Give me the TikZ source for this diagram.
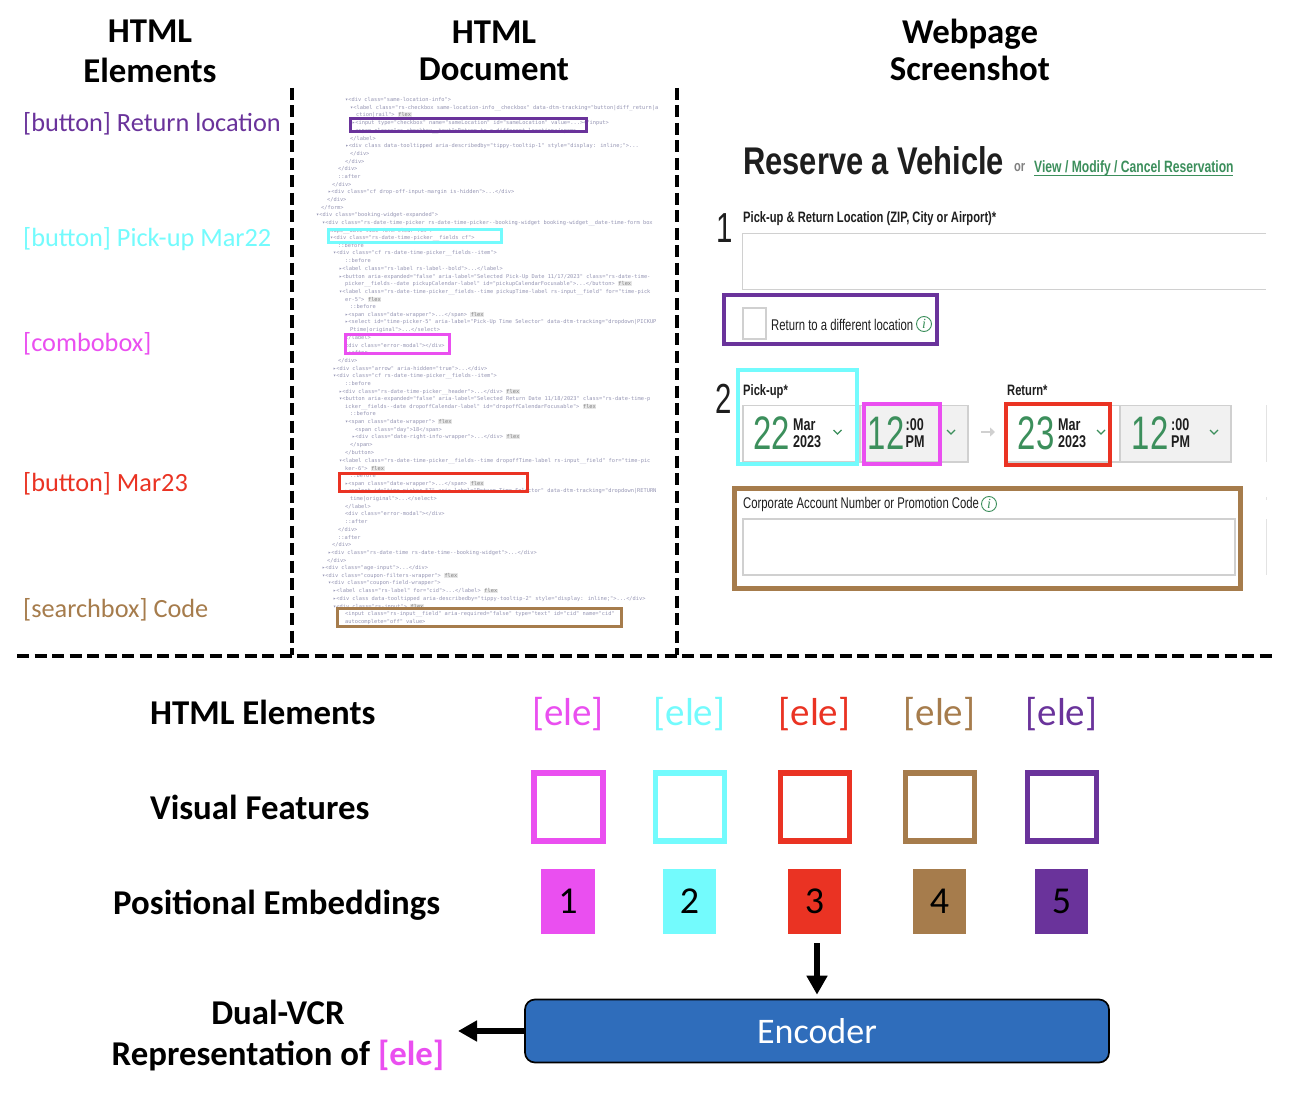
\documentclass[tikz,border=0pt]{standalone}
\usepackage{fontspec}
\setmainfont{Carlito}
\newfontfamily\shotr[FakeStretch=0.73]{Liberation Sans}
\newfontfamily\shotb[FakeStretch=0.8]{Liberation Sans Bold}
\newfontfamily\shotn[FakeStretch=0.74]{Liberation Sans Bold}
\newfontfamily\shotd[FakeStretch=0.7]{Liberation Sans}
\newfontfamily\shoti{Liberation Serif Italic}
\newfontfamily\codef{DejaVu Sans Mono}
\usetikzlibrary{arrows.meta}
\definecolor{cpurple}{RGB}{106,51,155}
\definecolor{ccyan}{RGB}{115,251,253}
\definecolor{cmag}{RGB}{234,79,240}
\definecolor{cred}{RGB}{234,51,35}
\definecolor{cbrown}{RGB}{166,124,76}
\definecolor{cblue}{RGB}{47,109,187}
\definecolor{cgreen}{RGB}{60,143,92}
\definecolor{ctitle}{RGB}{30,30,30}
\definecolor{ccode}{RGB}{150,150,180}
\definecolor{cframe}{RGB}{208,208,208}
\definecolor{cgrayfill}{RGB}{241,241,241}
\newcommand\fs[1]{\fontsize{#1}{#1}\selectfont}
\newcommand\cl[3]{\node[codeline] at (#1,#2) {\detokenize{#3}};}
\newcommand\clf[3]{\node[codeline] at (#1,#2) {\detokenize{#3} {\fboxsep=0.4pt\colorbox{gray!18}{\textcolor{gray}{flex}}}};}
\newcommand\daybox[6]{%
  \node[bignum] at (#1,433) {#3};
  \node[smallnum] at (#2,425) {#4};
  \node[smallnum] at (#2,442) {#5};
  \draw[chev] (#6-4,430) -- (#6,434) -- (#6+4,430);
}
\tikzset{
  codeline/.style={anchor=west,inner sep=0pt,text=ccode,font=\codef\fs{5.33}},
  header/.style={anchor=base,font=\bfseries\fs{34.8},inner sep=0pt,text=black},
  sidelabel/.style={anchor=base west,inner sep=0pt,font=\fs{26.3}},
  rowlabel/.style={anchor=base west,inner sep=0pt,font=\bfseries\fs{34.8},text=black},
  divider/.style={line width=4pt,dash pattern=on 12pt off 5.5pt},
  hilite/.style={line width=#1,fill=none},
  hilite/.default=3pt,
  eletext/.style={anchor=base,inner sep=0pt,font=\fs{39}},
  square/.style={line width=5.5pt,minimum width=69pt,minimum height=68pt,inner sep=0pt,draw},
  numbox/.style={minimum width=53.5pt,minimum height=65pt,inner sep=0pt,text=black,font=\fs{38}},
  bignum/.style={anchor=west,inner sep=0pt,text=cgreen,font=\shotd\fs{47}},
  smallnum/.style={anchor=west,inner sep=0pt,text=ctitle,font=\shotn\fs{17}},
  chev/.style={cgreen,line width=1.2pt},
  shotlabel/.style={anchor=west,inner sep=0pt,text=ctitle},
  fieldbox/.style={draw=cframe,line width=1.2pt},
  infoc/.style={circle,draw=cgreen,line width=0.9pt,text=cgreen,inner sep=0pt,minimum size=15pt,font=\shoti\fs{14}},
  flow/.style={-{Triangle[length=19pt,width=20pt]},line width=6.2pt,black},
}
\begin{document}
\begin{tikzpicture}[x=1pt,y=-1pt]
\useasboundingbox (0,0) rectangle (1294,1094);
\fill[white] (0,0) rectangle (1294,1094);

% headers
\node[header] (h1a) at (150,43) {HTML};
\node[header] (h1b) at (150,83) {Elements};
\node[header] (h2a) at (494,44) {HTML};
\node[header] (h2b) at (494,81) {Document};
\node[header] (h3a) at (970,44) {Webpage};
\node[header] (h3b) at (970,81) {Screenshot};

% dividers
\draw[divider] (292,88) -- (292,655);
\draw[divider] (677,88) -- (677,655);
\draw[divider] (17,656) -- (1275,656);

% side labels
\node[sidelabel,text=cpurple] (s1) at (23,131.5) {[button] Return location};
\node[sidelabel,text=ccyan] (s2) at (23,246.5) {[button] Pick-up Mar22};
\node[sidelabel,text=cmag] (s3) at (23,352) {[combobox]};
\node[sidelabel,text=cred] (s4) at (23,491) {[button] Mar23};
\node[sidelabel,text=cbrown] (s5) at (23,617) {[searchbox] Code};

% HTML document
\cl{345}{100}{▾<div class="same-location-info">}
\cl{350}{107.7}{▾<label class="rs-checkbox same-location-info__checkbox" data-dtm-tracking="button|diff_return|a}
\clf{356}{115}{ction|rail">}
\cl{352}{123}{▸<input type="checkbox" name="sameLocation" id="sameLocation" value=...></input>}
\cl{355}{130.7}{<span class="rs-checkbox__text">Return to a different location</span>}
\cl{350}{138.3}{</label>}
\cl{345.5}{146}{▸<div class data-tooltipped aria-describedby="tippy-tooltip-1" style="display: inline;">...}
\cl{350}{153.7}{</div>}
\cl{345}{161.3}{</div>}
\cl{338}{169}{</div>}
\cl{338}{176.7}{::after}
\cl{332}{184.3}{</div>}
\cl{328}{192}{▸<div class="cf drop-off-input-margin is-hidden">...</div>}
\cl{327}{200}{</div>}
\cl{321}{207.7}{</form>}
\cl{316}{215.3}{▾<div class="booking-widget-expanded">}
\cl{322}{223}{▾<div class="rs-date-time-picker rs-date-time-picker--booking-widget booking-widget__date-time-form box}
\cl{327}{230.7}{shape__date-time-form clear-fix">}
\cl{330}{237.7}{▾<div class="rs-date-time-picker__fields cf">}
\cl{338}{245.7}{::before}
\cl{333}{253.3}{▾<div class="cf rs-date-time-picker__fields--item">}
\cl{345}{261}{::before}
\cl{339}{269}{▸<label class="rs-label rs-label--bold">...</label>}
\cl{339}{276.7}{▸<button aria-expanded="false" aria-label="Selected Pick-Up Date 11/17/2023" class="rs-date-time-}
\clf{345}{284.3}{picker__fields--date pickupCalendar-label" id="pickupCalendarFocusable">...</button>}
\cl{339}{292}{▾<label class="rs-date-time-picker__fields--time pickupTime-label rs-input__field" for="time-pick}
\clf{345}{299.3}{er-5">}
\cl{350}{307}{::before}
\clf{345}{315}{▸<span class="date-wrapper">...</span>}
\cl{345}{322.3}{▸<select id="time-picker-5" aria-label="Pick-Up Time Selector" data-dtm-tracking="dropdown|PICKUP}
\cl{350}{330}{Ptime|original">...</select>}
\cl{345}{337.7}{</label>}
\cl{345}{345.3}{<div class="error-modal"></div>}
\cl{345}{353}{::after}
\cl{338}{360.7}{</div>}
\cl{333}{368.3}{▸<div class="arrow" aria-hidden="true">...</div>}
\cl{333}{376}{▾<div class="cf rs-date-time-picker__fields--item">}
\cl{345}{384}{::before}
\clf{339}{391.7}{▸<div class="rs-date-time-picker__header">...</div>}
\cl{339}{399.3}{▾<button aria-expanded="false" aria-label="Selected Return Date 11/18/2023" class="rs-date-time-p}
\clf{345}{406.7}{icker__fields--date dropoffCalendar-label" id="dropoffCalendarFocusable">}
\cl{350}{414}{::before}
\clf{345}{422}{▾<span class="date-wrapper">}
\cl{355}{429.7}{<span class="day">18</span>}
\clf{352}{437.3}{▸<div class="date-right-info-wrapper">...</div>}
\cl{350}{445}{</span>}
\cl{345}{452.7}{</button>}
\cl{339}{460.7}{▾<label class="rs-date-time-picker__fields--time dropoffTime-label rs-input__field" for="time-pic}
\clf{345}{468.3}{ker-6">}
\cl{350}{476}{::before}
\clf{345}{483.7}{▸<span class="date-wrapper">...</span>}
\cl{345}{491.3}{▸<select id="time-picker-57" aria-label="Return Time Selector" data-dtm-tracking="dropdown|RETURN}
\cl{350}{498.7}{time|original">...</select>}
\cl{345}{506.3}{</label>}
\cl{345}{514}{<div class="error-modal"></div>}
\cl{345}{521.7}{::after}
\cl{338}{529.3}{</div>}
\cl{338}{537.3}{::after}
\cl{332}{545}{</div>}
\cl{328}{552.7}{▸<div class="rs-date-time rs-date-time--booking-widget">...</div>}
\cl{327}{560.3}{</div>}
\cl{322}{568}{▸<div class="age-input">...</div>}
\clf{322}{575.7}{▾<div class="coupon-filters-wrapper">}
\cl{328}{583.3}{▾<div class="coupon-field-wrapper">}
\clf{333}{591}{▸<label class="rs-label" for="cid">...</label>}
\cl{333}{599}{▸<div class data-tooltipped aria-describedby="tippy-tooltip-2" style="display: inline;">...</div>}
\clf{333}{606.7}{▾<div class="rs-input">}
\cl{345}{614.3}{<input class="rs-input__field" aria-required="false" type="text" id="cid" name="cid"}
\cl{345}{622}{autocomplete="off" value>}

% document highlights
\draw[hilite,draw=cpurple] (350,118.5) rectangle (586,132);
\draw[hilite,draw=ccyan] (328.5,229.5) rectangle (501.5,243);
\draw[hilite,draw=cmag] (345.5,334.5) rectangle (449.5,353.5);
\draw[hilite,draw=cred] (339.5,473.5) rectangle (527.5,491.5);
\draw[hilite,draw=cbrown] (337.5,608.5) rectangle (621.5,626.5);

% screenshot
\node[shotlabel,font=\shotb\fs{38.6}] (title) at (743,161) {Reserve a Vehicle};
\node[shotlabel,font=\shotn\fs{15},text=gray] (ortxt) at (1014,168) {or};
\node[shotlabel,font=\shotn\fs{16.4},text=cgreen] (link) at (1034,168) {View / Modify / Cancel Reservation};
\draw[cgreen,line width=1pt] (1034,176) -- (1233,176);
\node[shotlabel,font=\shotd\fs{42}] (n1) at (716,228) {1};
\node[shotlabel,font=\shotn\fs{15.1}] (l1) at (743,219) {Pick-up \& Return Location (ZIP, City or Airport)*};
\draw[fieldbox] (1266,233.3) -- (742.7,233.3) -- (742.7,289.3) -- (1266,289.3);
\draw[fieldbox,line width=1.6pt] (743,308) rectangle (766,339);
\node[shotlabel,font=\shotr\fs{15.5}] (l2) at (771,325) {Return to a different location};
\node[infoc] (i1) at (924,324) {i};
\draw[hilite=4pt,draw=cpurple] (723.5,295) rectangle (937,343.7);

\node[shotlabel,font=\shotd\fs{42}] (n2) at (715,399) {2};
\node[shotlabel,font=\shotn\fs{15.1}] (l3) at (743,391.5) {Pick-up*};
\node[shotlabel,font=\shotn\fs{15.1}] (l4) at (1007,390.5) {Return*};
\filldraw[fieldbox,fill=cgrayfill] (860,405.5) rectangle (968,462);
\filldraw[fieldbox,fill=white] (743,405.5) rectangle (860,462);
\filldraw[fieldbox,fill=cgrayfill] (1120,405.5) rectangle (1231,462);
\filldraw[fieldbox,fill=white] (1005,405.5) rectangle (1120,462);
\daybox{753.5}{793}{22}{Mar}{2023}{837.5}
\daybox{867.5}{905.5}{12}{:00}{PM}{951}
\daybox{1017.5}{1058}{23}{Mar}{2023}{1101}
\daybox{1131.5}{1171}{12}{:00}{PM}{1214}
\draw[-{Triangle[length=5pt,width=9pt]},draw=cframe,fill=cframe,line width=2.5pt] (981,432) -- (995,432);
\draw[hilite=4pt,draw=ccyan] (738,370) rectangle (857,464);
\draw[hilite=4pt,draw=cmag] (864,404) rectangle (940,464);
\draw[hilite=4pt,draw=cred] (1006,404) rectangle (1110,465);

\node[shotlabel,font=\shotr\fs{15.5}] (l5) at (743,504.5) {Corporate Account Number or Promotion Code};
\node[infoc] (i2) at (989,504) {i};
\draw[fieldbox] (743,519) rectangle (1235,575);
\draw[hilite=5pt,draw=cbrown] (734.5,488.5) rectangle (1240.5,588.5);
\draw[cframe!60,line width=1pt] (1266,405) -- (1266,462) (1266,497) -- (1266,500) (1266,519) -- (1266,575);

% lower rows
\node[rowlabel] (r1) at (150,724) {HTML Elements};
\node[rowlabel] (r2) at (150,819) {Visual Features};
\node[rowlabel] (r3) at (113,914) {Positional Embeddings};

\foreach \nm/\cx/\col/\num in {a/568/cmag/1,b/689.5/ccyan/2,c/814.5/cred/3,d/939.5/cbrown/4,e/1061.5/cpurple/5}{
  \node[eletext,text=\col] (ele\nm) at (\cx,725.5) {[ele]};
  \node[square,draw=\col] (sq\nm) at (\cx+0.5,807) {};
  \node[numbox,fill=\col] (num\nm) at (\cx,901.5) {\raisebox{-1.5pt}{\num}};
}

\node[draw=black,line width=1.7pt,fill=cblue,rounded corners=10pt,minimum width=584pt,minimum height=63pt,inner sep=0pt,text=white,font=\fs{36}] (enc) at (817,1031) {\raisebox{-1pt}{Encoder}};
\node[header] (d1) at (278,1024) {Dual-VCR};
\node[header] (d2) at (278,1065) {Representation of \textcolor{cmag}{[ele]}};
\coordinate (outend) at (458,1031);
\coordinate (instart) at (817,943);
\draw[flow,shorten >=4pt] (instart) -- (enc.north);
\draw[flow] (enc.west) -- (outend);
\end{tikzpicture}
\end{document}
